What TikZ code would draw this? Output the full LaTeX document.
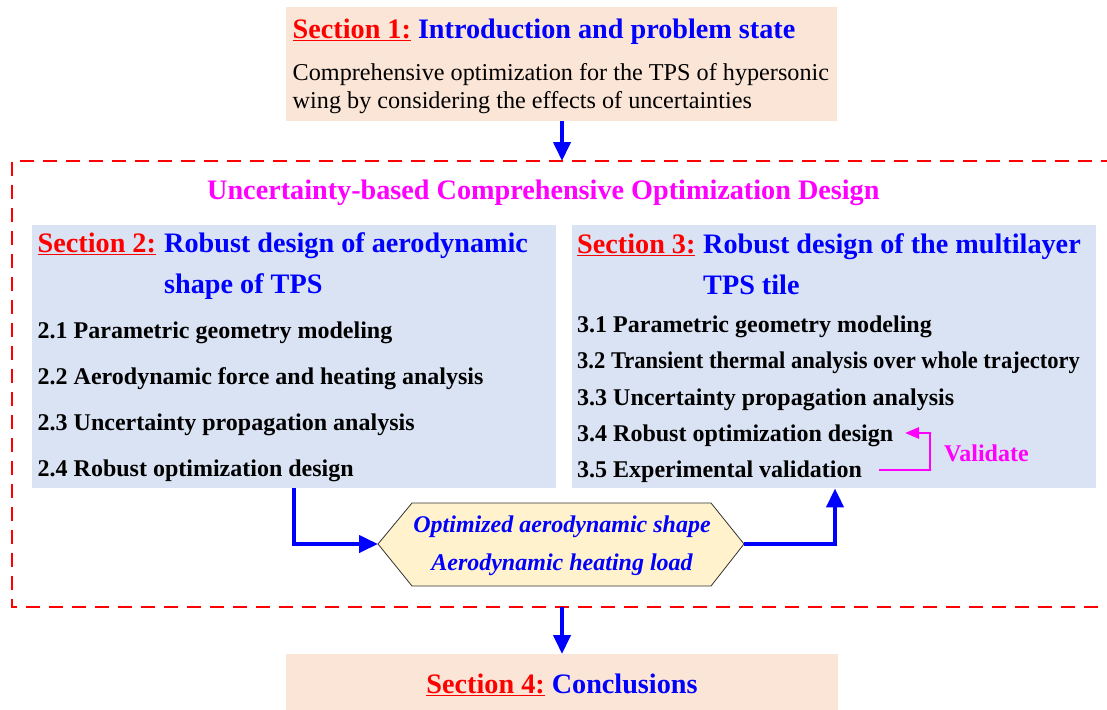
\documentclass[tikz,border=0pt]{standalone}
\usepackage{fontspec}
\setmainfont{Liberation Serif}
\usetikzlibrary{arrows.meta}
\definecolor{peachbg}{HTML}{FBE5D6}
\definecolor{bluebg}{HTML}{DAE3F3}
\definecolor{hexbg}{HTML}{FFF2CC}
\definecolor{tblue}{HTML}{0000FF}
\definecolor{tred}{HTML}{FF0000}
\definecolor{tmag}{HTML}{FF00FF}
\newcommand\ttlfont{\fontsize{28.2}{33}\selectfont\bfseries}
\newcommand\itemfont{\fontsize{24}{29}\selectfont\bfseries}
\newcommand\bodyfont{\fontsize{24.2}{29}\selectfont}
\newcommand\secref[1]{\textcolor{tred}{\underline{#1}}}
\begin{document}
\begin{tikzpicture}[x=1pt,y=-1pt,
  box/.style={draw=none, inner sep=0pt, anchor=north west},
  txt/.style={anchor=base west, inner sep=0pt},
  ctxt/.style={anchor=base, inner sep=0pt},
  flow/.style={draw=tblue, line width=4pt, line join=miter, -{Triangle[length=19pt,width=17pt]}},
  vflow/.style={draw=tmag, line width=2.7pt, line join=miter, -{Triangle[length=14pt,width=11pt]}},
  dashbox/.style={draw=tred, line width=2pt, dash pattern=on 14pt off 9pt}]
\clip (0,0) rectangle (1107,709);
\fill[white] (0,0) rectangle (1107,709);

% Section 1
\node[box, fill=peachbg, minimum width=551pt, minimum height=114pt] (s1) at (286,7) {};
\node[txt] (s1t) at (292.5,38.5) {\ttlfont\secref{Section 1:} \textcolor{tblue}{Introduction and problem state}};
\node[txt] (s1b1) at (292.5,81) {\bodyfont Comprehensive optimization for the TPS of hypersonic};
\node[txt] (s1b2) at (292.5,108.5) {\bodyfont wing by considering the effects of uncertainties};

% dashed frame
\draw[dashbox] (1115,161) -- (11.5,161) -- (11.5,607) -- (1115,607);
\coordinate (ftop) at (562,161);
\coordinate (fbot) at (562,607);
\node[txt] (ttl) at (207,199) {\ttlfont\textcolor{tmag}{Uncertainty-based Comprehensive Optimization Design}};

% Section 2
\node[box, fill=bluebg, minimum width=524pt, minimum height=263pt] (s2) at (32,225) {};
\node[txt] (s2a) at (37.5,252) {\ttlfont\secref{Section 2:}};
\node[txt] (s2b) at (164,252) {\ttlfont\textcolor{tblue}{Robust design of aerodynamic}};
\node[txt] (s2c) at (164,293) {\ttlfont\textcolor{tblue}{shape of TPS}};
\node[txt] (i21) at (37.5,338) {\itemfont 2.1 Parametric geometry modeling};
\node[txt] (i22) at (37.5,384) {\itemfont 2.2 Aerodynamic force and heating analysis};
\node[txt] (i23) at (37.5,430) {\itemfont 2.3 Uncertainty propagation analysis};
\node[txt] (i24) at (37.5,476) {\itemfont 2.4 Robust optimization design};

% Section 3
\node[box, fill=bluebg, minimum width=524pt, minimum height=263pt] (s3) at (572,225) {};
\node[txt] (s3a) at (577,253) {\ttlfont\secref{Section 3:}};
\node[txt] (s3b) at (703,253) {\ttlfont\textcolor{tblue}{Robust design of the multilayer}};
\node[txt] (s3c) at (703,294) {\ttlfont\textcolor{tblue}{TPS tile}};
\node[txt] (i31) at (577,332) {\itemfont 3.1 Parametric geometry modeling};
\node[txt] (i32) at (577,368) {\itemfont\scalebox{0.94}[1]{3.2 Transient thermal analysis over whole trajectory}};
\node[txt] (i33) at (577,405) {\itemfont 3.3 Uncertainty propagation analysis};
\node[txt] (i34) at (577,441) {\itemfont 3.4 Robust optimization design};
\node[txt] (i35) at (577,477) {\itemfont 3.5 Experimental validation};
\node[txt] (val) at (944,461) {\itemfont\textcolor{tmag}{Validate}};
\coordinate (v1) at (879,470);
\coordinate (v2) at (930,433);
\coordinate (v3) at (905,433);
\draw[vflow] (v1) -| (v2) -- (v3);

% hexagon
\coordinate (hexL) at (378,544);
\coordinate (hexR) at (744,544);
\draw[fill=hexbg, draw=black!80, line width=0.8pt] (hexL) -- (412,503) -- (711,503) -- (hexR) -- (711,586) -- (412,586) -- cycle;
\node[ctxt] (h1) at (562,532) {\fontsize{24}{29}\selectfont\bfseries\itshape\textcolor{tblue}{Optimized aerodynamic shape}};
\node[ctxt] (h2) at (562,570) {\fontsize{24}{29}\selectfont\bfseries\itshape\textcolor{tblue}{Aerodynamic heating load}};

% Section 4
\node[box, fill=peachbg, minimum width=552pt, minimum height=56pt] (s4) at (286,654) {};
\node[ctxt] (s4t) at (562,693) {\ttlfont\secref{Section 4:} \textcolor{tblue}{Conclusions}};

% arrows
\draw[flow] (s1.south -| ftop) -- (ftop);
\draw[flow] (fbot) -- (s4.north -| fbot);
\draw[flow] ([xshift=262pt]s2.south west) |- (hexL);
\draw[flow] (hexR) -| ([xshift=263pt]s3.south west);
\end{tikzpicture}
\end{document}
